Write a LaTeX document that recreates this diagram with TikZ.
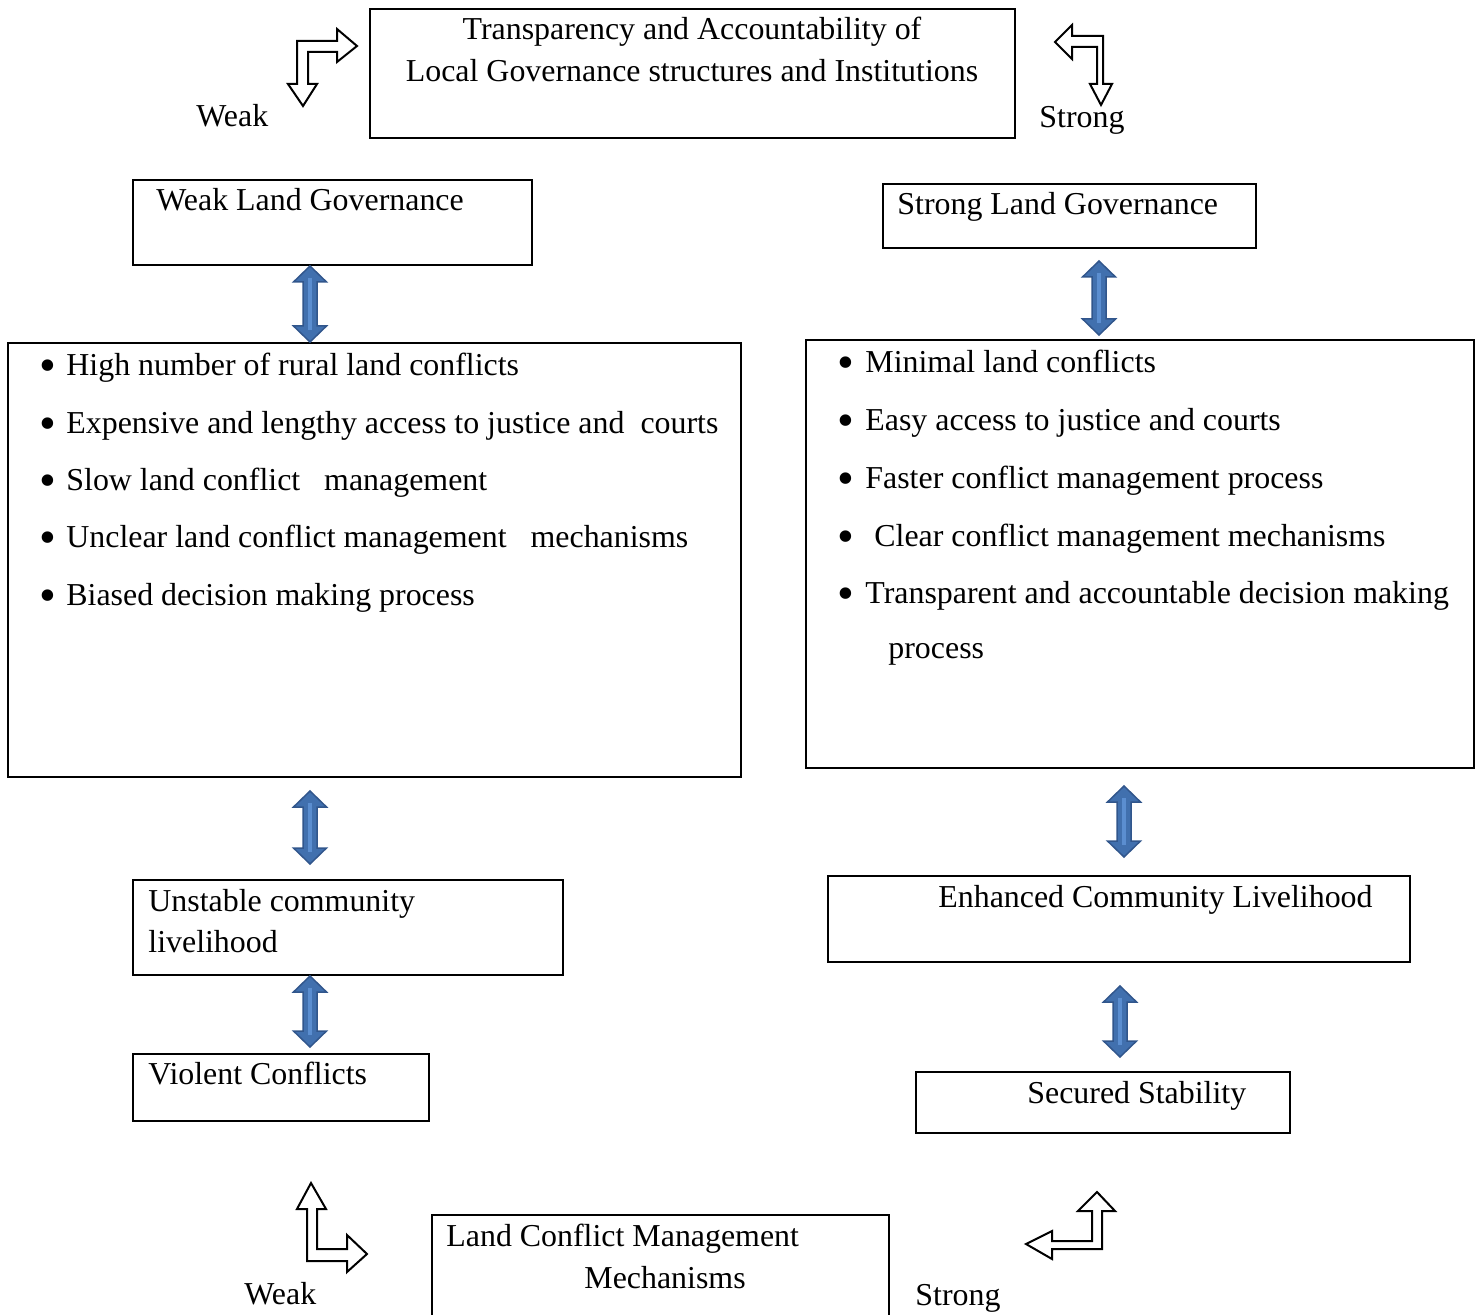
\documentclass[tikz,border=0pt]{standalone}
\usepackage{fontspec}
\setmainfont{Liberation Serif}
\usetikzlibrary{calc,fit}
\definecolor{arrowblue}{HTML}{4170AE}
\definecolor{arrowedge}{HTML}{31568C}
\definecolor{arrowshine}{HTML}{5B8ED0}

% blue two-headed block arrow at x=#1, from below node #2 (gap #3) to above node #4 (gap #5)
\newcommand{\twoway}[5]{%
  \coordinate (tw-a) at ($(#2.south -| #1,0)+(0,#3)$);
  \coordinate (tw-b) at ($(#4.north -| #1,0)+(0,-#5)$);
  \draw[blockarrow] let \p1=(tw-a), \p2=(tw-b) in
    (\x1,\y1) -- (\x1+8.25pt,\y1-8pt) -- (\x1+3.5pt,\y1-8pt)
    -- (\x1+3.5pt,\y2+8pt) -- (\x1+8.25pt,\y2+8pt) -- (\x1,\y2)
    -- (\x1-8.25pt,\y2+8pt) -- (\x1-3.5pt,\y2+8pt)
    -- (\x1-3.5pt,\y1-8pt) -- (\x1-8.25pt,\y1-8pt) -- cycle;
  \draw[arrowshine, line width=1.6pt] let \p1=(tw-a), \p2=(tw-b) in
    (\x1,\y1-6pt) -- (\x1,\y2+6pt);
}
\newcommand{\dotmark}{{\fontsize{24}{24}\selectfont\textbullet}}

\begin{document}
\begin{tikzpicture}[
  x=0.5pt, y=-0.5pt,
  font=\fontsize{15.95}{19}\selectfont,
  frame/.style={draw, line width=1pt, inner sep=0pt},
  txt/.style={inner sep=0pt, anchor=base west},
  mid/.style={inner sep=0pt, anchor=base},
  blockarrow/.style={draw=arrowedge, fill=arrowblue, line width=0.75pt},
  bentarrow/.style={draw, fill=white, line width=1pt, line join=miter}
]
\useasboundingbox (0,0) rectangle (1483,1315);
\clip (0,0) rectangle (1483,1315);

% ---- Top: transparency and accountability ----------------------------------
\node[frame, fit={(370,9) (1015,138)}] (transp) {};
\node[mid] (transp1) at (692,40) {Transparency and Accountability of};
\node[mid] (transp2) at (692,82) {Local Governance structures and Institutions};

\node[txt] (weaktop) at (196,127) {Weak};
\node[txt] (strongtop) at (1039,128) {Strong};

\draw[bentarrow] (303,106) -- (317,84) -- (308,84) -- (308,52) -- (337,52)
  -- (337,62) -- (357,46) -- (337,29) -- (337,41) -- (297,41) -- (297,84)
  -- (288,84) -- cycle;
\draw[bentarrow] (1055,42) -- (1072,25) -- (1072,36) -- (1103,36) -- (1103,84)
  -- (1112,84) -- (1101,105) -- (1090,84) -- (1097,84) -- (1097,47)
  -- (1072,47) -- (1072,59) -- cycle;

% ---- Land governance --------------------------------------------------------
\node[frame, fit={(133,180) (532,265)}] (weakgov) {};
\node[txt] (weakgovtxt) at (156,211) {Weak Land Governance};

\node[frame, fit={(883,184) (1256,248)}] (stronggov) {};
\node[txt] (stronggovtxt) at (897,215) {Strong Land Governance};

% ---- Effects on land conflicts ----------------------------------------------
\node[frame, fit={(8,343) (741,777)}] (weakeff) {};
\foreach \txt [count=\i from 0] in {High number of rural land conflicts,
    Expensive and lengthy access to justice and\ \ courts,
    Slow land conflict\ \ \ management,
    Unclear land conflict management\ \ \ mechanisms,
    Biased decision making process} {
  \node[mid] (wb\i) at (48,382+57.3*\i) {\dotmark};
  \node[txt] (wl\i) at (66,376+57.3*\i) {\txt};
}

\node[frame, fit={(806,340) (1474,768)}] (strongeff) {};
\foreach \xx/\txt [count=\i from 0] in {865/Minimal land conflicts,
    865/Easy access to justice and courts,
    865/Faster conflict management process,
    874/Clear conflict management mechanisms,
    865/Transparent and accountable decision making} {
  \node[mid] (sb\i) at (846,379+57.7*\i) {\dotmark};
  \node[txt] (sl\i) at (\xx,373+57.7*\i) {\txt};
}
\node[txt] (sl5) at (888,659) {process};

% ---- Livelihood and outcomes ------------------------------------------------
\node[frame, fit={(133,880) (563,975)}] (unstable) {};
\node[txt] (unstable1) at (148,911) {Unstable community};
\node[txt] (unstable2) at (148,952) {livelihood};

\node[frame, fit={(133,1054) (429,1121)}] (violent) {};
\node[txt] (violenttxt) at (148,1084) {Violent Conflicts};

\node[frame, fit={(828,876) (1410,962)}] (enhanced) {};
\node[txt] (enhancedtxt) at (938,907) {Enhanced Community Livelihood};

\node[frame, fit={(916,1072) (1290,1133)}] (secured) {};
\node[txt] (securedtxt) at (1027,1103) {Secured Stability};

% ---- Bottom: land conflict management mechanisms ----------------------------
\node[frame, fit={(432,1215) (889,1330)}] (lcm) {};
\node[txt] (lcm1) at (446,1246) {Land Conflict Management};
\node[txt] (lcm2) at (584,1288) {Mechanisms};

\node[txt] (weakbot) at (244,1304) {Weak};
\node[txt] (strongbot) at (915,1305) {Strong};

\draw[bentarrow] (311,1183) -- (326,1209) -- (317,1209) -- (317,1249)
  -- (347,1249) -- (347,1235) -- (367,1254) -- (347,1272) -- (347,1261)
  -- (307,1261) -- (307,1209) -- (297,1209) -- cycle;
\draw[bentarrow] (1097,1192) -- (1115,1211) -- (1102,1211) -- (1102,1249)
  -- (1052,1249) -- (1052,1259) -- (1026,1244) -- (1052,1231) -- (1052,1241)
  -- (1092,1241) -- (1092,1211) -- (1078,1211) -- cycle;

% ---- Two-way links ----------------------------------------------------------
\twoway{310}{weakgov}{0}{weakeff}{0}
\twoway{1099}{stronggov}{12}{strongeff}{4}
\twoway{310}{weakeff}{13}{unstable}{15}
\twoway{310}{unstable}{0}{violent}{6}
\twoway{1124}{strongeff}{17}{enhanced}{18}
\twoway{1120}{enhanced}{23}{secured}{14}

\end{tikzpicture}
\end{document}
